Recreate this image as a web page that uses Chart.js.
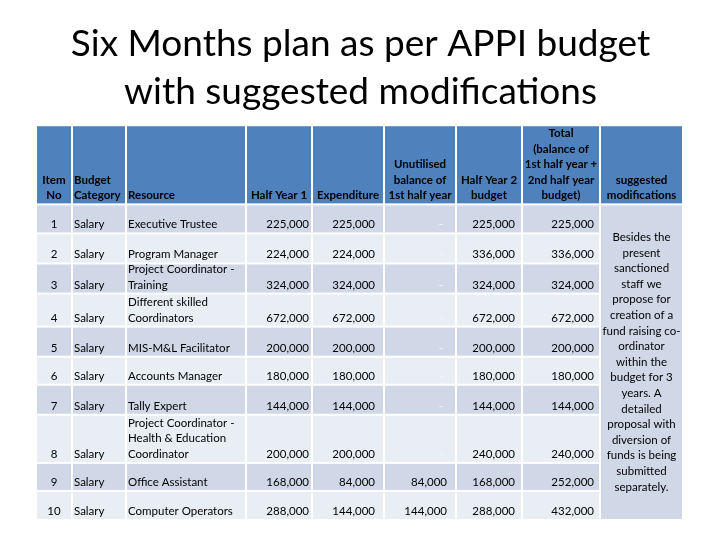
<!DOCTYPE html>
<html>
<head>
<meta charset="utf-8">
<script src="https://cdn.jsdelivr.net/npm/chart.js@4.4.1/dist/chart.umd.min.js"></script>
<style>
  html, body { margin: 0; padding: 0; background: #fff; }
</style>
</head>
<body>
<canvas id="budgetTable" width="720" height="540"></canvas>
<script>
// table content
const headers = [
  ['Item', 'No'], ['Budget', 'Category'], ['Resource'], ['Half Year 1'], ['Expenditure'],
  ['Unutilised', 'balance of', '1st half year'], ['Half Year 2', 'budget'],
  ['Total', '(balance of', '1st half year +', '2nd half year', 'budget)'],
  ['suggested', 'modifications']
];
const itemNo = [1, 2, 3, 4, 5, 6, 7, 8, 9, 10];
const budgetCategory = ['Salary', 'Salary', 'Salary', 'Salary', 'Salary', 'Salary', 'Salary', 'Salary', 'Salary', 'Salary'];
const resources = [
  'Executive Trustee', 'Program Manager', 'Project Coordinator -\nTraining',
  'Different skilled\nCoordinators', 'MIS-M&L Facilitator', 'Accounts Manager',
  'Tally Expert', 'Project Coordinator -\nHealth & Education\nCoordinator',
  'Office Assistant', 'Computer Operators'
];
const halfYear1   = [225000, 224000, 324000, 672000, 200000, 180000, 144000, 200000, 168000, 288000];
const expenditure = [225000, 224000, 324000, 672000, 200000, 180000, 144000, 200000, 84000, 144000];
const unutilised  = [0, 0, 0, 0, 0, 0, 0, 0, 84000, 144000];
const halfYear2   = [225000, 336000, 324000, 672000, 200000, 180000, 144000, 240000, 168000, 288000];
const totalBudget = [225000, 336000, 324000, 672000, 200000, 180000, 144000, 240000, 252000, 432000];
const suggestion = [
  'Besides the', 'present', 'sanctioned', 'staff we', 'propose for', 'creation of a',
  'fund raising co-', 'ordinator', 'within the', 'budget for 3', 'years. A', 'detailed',
  'proposal with', 'diversion of', 'funds is being', 'submitted', 'separately.'
];

// layout (table units)
const colWidths = [36, 54, 120, 66, 72, 72, 66, 78, 83];
const rowHeights = [79, 29, 30, 30, 33, 30, 28, 30, 48, 28, 29];
const headerAlign = ['center', 'left', 'left', 'center', 'center', 'center', 'center', 'center', 'center'];
const numPad = [0, 0, 0, 2, 8, 8, 6, 5];
const GAP = 2;
const FONT = 'Lato, "Noto Sans", sans-serif';
const SIZE = 11.5;
const LINE = 15.6;

const edges = arr => arr.reduce((a, w) => { a.push(a[a.length - 1] + w); return a; }, [0]);
const colEdges = edges(colWidths);
const rowEdges = edges(rowHeights);
const fmt = v => v.toLocaleString('en-US');

const tablePlugin = {
  id: 'tableCells',
  beforeDatasetsDraw(chart) {
    const { ctx, scales: { x, y } } = chart;
    const cell = (c, r0, r1) => ({
      l: x.getPixelForValue(colEdges[c]),
      r: x.getPixelForValue(colEdges[c + 1]) - GAP,
      t: y.getPixelForValue(rowEdges[r0]),
      b: y.getPixelForValue(rowEdges[r1 + 1]) - GAP
    });
    const fill = (k, color) => { ctx.fillStyle = color; ctx.fillRect(k.l, k.t, k.r - k.l, k.b - k.t); };
    const lines = (k, arr, align, pad, color, bottomPad) => {
      ctx.fillStyle = color;
      ctx.textAlign = align;
      ctx.textBaseline = 'alphabetic';
      const tx = align === 'left' ? k.l + pad : align === 'right' ? k.r - pad : (k.l + k.r) / 2;
      arr.forEach((s, i) => ctx.fillText(s, tx, k.b - bottomPad - (arr.length - 1 - i) * LINE));
    };

    ctx.save();
    // header
    ctx.font = 'bold ' + SIZE + 'px ' + FONT;
    headers.forEach((h, c) => {
      const k = cell(c, 0, 0);
      fill(k, '#4F81BD');
      lines(k, h, headerAlign[c], 1, '#000', 4);
    });

    // body rows
    ctx.font = SIZE + 'px ' + FONT;
    itemNo.forEach((n, i) => {
      const r = i + 1;
      const bg = i % 2 === 0 ? '#D0D8E8' : '#E9EDF4';
      for (let c = 0; c < 8; c++) fill(cell(c, r, r), bg);
      lines(cell(0, r, r), [String(n)], 'center', 0, '#000', 4);
      lines(cell(1, r, r), [budgetCategory[i]], 'left', 1, '#000', 4);
      lines(cell(2, r, r), resources[i].split('\n'), 'left', 1, '#000', 4);
      [halfYear1, expenditure, unutilised, halfYear2, totalBudget].forEach((col, j) => {
        const c = j + 3;
        const v = col[i];
        if (v === 0) lines(cell(c, r, r), ['-'], 'right', 12, '#F4F6FA', 4);
        else lines(cell(c, r, r), [fmt(v)], 'right', numPad[c], '#000', 4);
      });
    });

    // merged suggestion column
    const m = cell(8, 1, itemNo.length);
    fill(m, '#D0D8E8');
    ctx.fillStyle = '#000';
    ctx.textAlign = 'center';
    ctx.textBaseline = 'middle';
    const cy = (m.t + m.b) / 2 - (suggestion.length - 1) * LINE / 2;
    suggestion.forEach((s, i) => ctx.fillText(s, (m.l + m.r) / 2, cy + i * LINE));
    ctx.restore();
  }
};

new Chart(document.getElementById('budgetTable'), {
  type: 'scatter',
  data: { datasets: [] },
  options: {
    responsive: false,
    animation: false,
    layout: { padding: { left: 37, right: 36, top: 0, bottom: 19 } },
    scales: {
      x: { type: 'linear', min: 0, max: colEdges[colEdges.length - 1], display: false },
      y: { type: 'linear', min: 0, max: rowEdges[rowEdges.length - 1], reverse: true, display: false }
    },
    plugins: {
      legend: { display: false },
      tooltip: { enabled: false },
      title: {
        display: true,
        text: ['Six Months plan as per APPI budget', 'with suggested modifications'],
        color: '#000',
        font: { family: FONT, size: 37, weight: 'normal', lineHeight: 1.3 },
        padding: { top: 20, bottom: 10 }
      }
    }
  },
  plugins: [tablePlugin]
});
</script>
</body>
</html>
